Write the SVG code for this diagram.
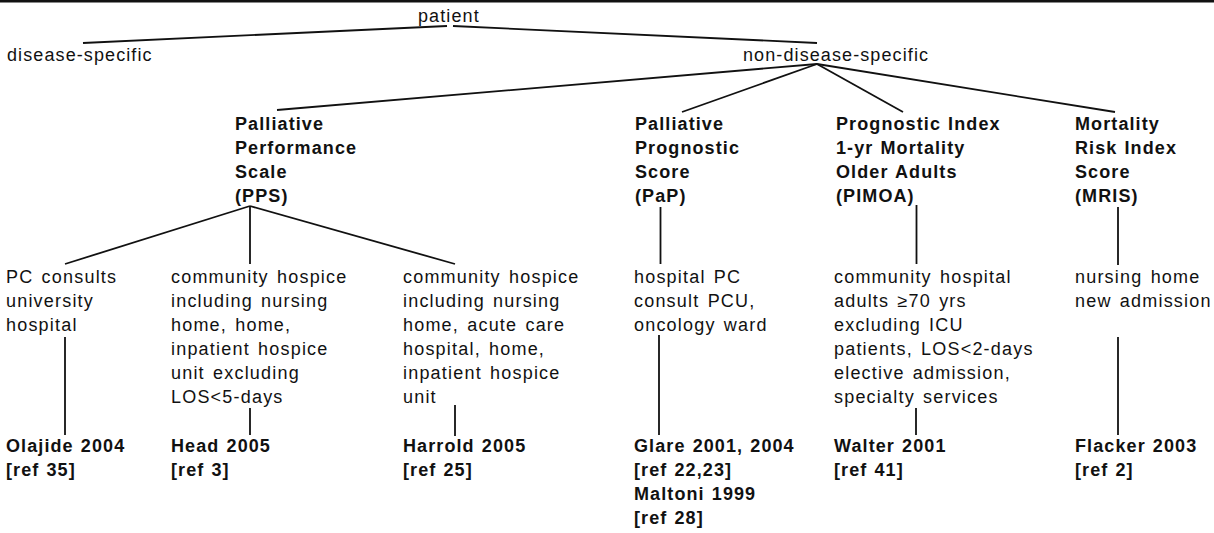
<svg xmlns="http://www.w3.org/2000/svg" width="1214" height="533" viewBox="0 0 1214 533">
<style>
text{font-family:"Liberation Sans",Arial,Helvetica,sans-serif;font-size:18px;fill:#111}
.t{letter-spacing:1.1px}
.n{letter-spacing:1.2px;word-spacing:2px}
.b{font-weight:bold;letter-spacing:1.1px;word-spacing:1px}
.c line{stroke:#111;stroke-width:1.8;stroke-linecap:butt}
</style>
<rect x="0" y="0" width="1214" height="2.5" fill="#111"/>
<g class="c" id="connectors">
<line x1="447" y1="26" x2="83" y2="43"/>
<line x1="453" y1="26" x2="817" y2="43"/>
<line x1="817" y1="64" x2="277" y2="110"/>
<line x1="817" y1="64" x2="682" y2="112"/>
<line x1="817" y1="64" x2="903" y2="112"/>
<line x1="817" y1="64" x2="1115" y2="112"/>
<line x1="250" y1="206" x2="65" y2="264"/>
<line x1="250" y1="206" x2="250" y2="264"/>
<line x1="250" y1="206" x2="455" y2="264"/>
<line x1="660.5" y1="207" x2="660.5" y2="264"/>
<line x1="916.5" y1="205" x2="916.5" y2="264"/>
<line x1="1118" y1="207" x2="1118" y2="265"/>
<line x1="65" y1="337" x2="65" y2="435"/>
<line x1="250" y1="408" x2="250" y2="435"/>
<line x1="455" y1="405" x2="455" y2="436"/>
<line x1="659" y1="335" x2="659" y2="435"/>
<line x1="916" y1="408" x2="916" y2="435"/>
<line x1="1118" y1="337" x2="1118" y2="435"/>
</g>
<g id="patient"><text class="t" x="418" y="22">patient</text></g>
<g id="disease-specific"><text class="t" x="7" y="61">disease-specific</text></g>
<g id="non-disease-specific"><text class="t" x="743" y="61">non-disease-specific</text></g>
<g id="pps"><text class="b" x="235"><tspan x="235" y="130">Palliative</tspan><tspan x="235" y="154">Performance</tspan><tspan x="235" y="178">Scale</tspan><tspan x="235" y="202">(PPS)</tspan></text></g>
<g id="pap"><text class="b" x="635"><tspan x="635" y="130">Palliative</tspan><tspan x="635" y="154">Prognostic</tspan><tspan x="635" y="178">Score</tspan><tspan x="635" y="202">(PaP)</tspan></text></g>
<g id="pimoa"><text class="b" x="836"><tspan x="836" y="130">Prognostic Index</tspan><tspan x="836" y="154">1-yr Mortality</tspan><tspan x="836" y="178">Older Adults</tspan><tspan x="836" y="202">(PIMOA)</tspan></text></g>
<g id="mris"><text class="b" x="1075"><tspan x="1075" y="130">Mortality</tspan><tspan x="1075" y="154">Risk Index</tspan><tspan x="1075" y="178">Score</tspan><tspan x="1075" y="202">(MRIS)</tspan></text></g>
<g id="setting1"><text class="n"><tspan x="6" y="283">PC consults</tspan><tspan x="6" y="307">university</tspan><tspan x="6" y="331">hospital</tspan></text></g>
<g id="setting2"><text class="n"><tspan x="171" y="283">community hospice</tspan><tspan x="171" y="307">including nursing</tspan><tspan x="171" y="331">home, home,</tspan><tspan x="171" y="355">inpatient hospice</tspan><tspan x="171" y="379">unit excluding</tspan><tspan x="171" y="403">LOS&lt;5-days</tspan></text></g>
<g id="setting3"><text class="n"><tspan x="403" y="283">community hospice</tspan><tspan x="403" y="307">including nursing</tspan><tspan x="403" y="331">home, acute care</tspan><tspan x="403" y="355">hospital, home,</tspan><tspan x="403" y="379">inpatient hospice</tspan><tspan x="403" y="403">unit</tspan></text></g>
<g id="setting4"><text class="n"><tspan x="634" y="283">hospital PC</tspan><tspan x="634" y="307">consult PCU,</tspan><tspan x="634" y="331">oncology ward</tspan></text></g>
<g id="setting5"><text class="n"><tspan x="834" y="283">community hospital</tspan><tspan x="834" y="307">adults &#8805;70 yrs</tspan><tspan x="834" y="331">excluding ICU</tspan><tspan x="834" y="355">patients, LOS&lt;2-days</tspan><tspan x="834" y="379">elective admission,</tspan><tspan x="834" y="403">specialty services</tspan></text></g>
<g id="setting6"><text class="n"><tspan x="1075" y="283">nursing home</tspan><tspan x="1075" y="307">new admission</tspan></text></g>
<g id="ref1"><text class="b"><tspan x="6" y="452">Olajide 2004</tspan><tspan x="6" y="476">[ref 35]</tspan></text></g>
<g id="ref2"><text class="b"><tspan x="171" y="452">Head 2005</tspan><tspan x="171" y="476">[ref 3]</tspan></text></g>
<g id="ref3"><text class="b"><tspan x="403" y="452">Harrold 2005</tspan><tspan x="403" y="476">[ref 25]</tspan></text></g>
<g id="ref4"><text class="b"><tspan x="634" y="452">Glare 2001, 2004</tspan><tspan x="634" y="476">[ref 22,23]</tspan><tspan x="634" y="500">Maltoni 1999</tspan><tspan x="634" y="524">[ref 28]</tspan></text></g>
<g id="ref5"><text class="b"><tspan x="834" y="452">Walter 2001</tspan><tspan x="834" y="476">[ref 41]</tspan></text></g>
<g id="ref6"><text class="b"><tspan x="1075" y="452">Flacker 2003</tspan><tspan x="1075" y="476">[ref 2]</tspan></text></g>
</svg>
